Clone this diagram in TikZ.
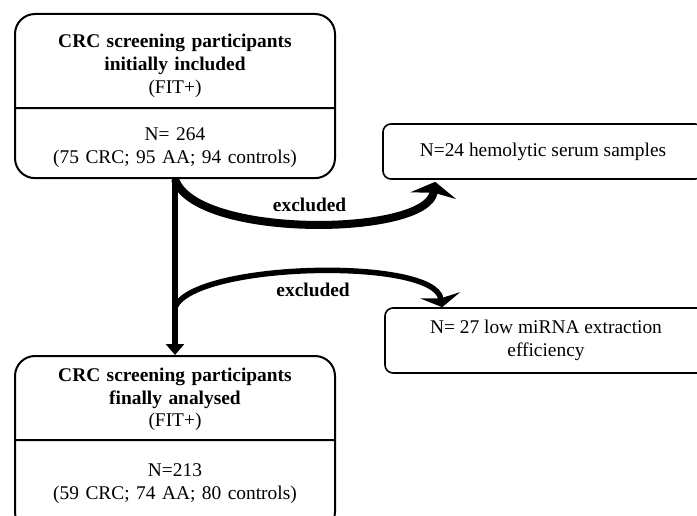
\documentclass[tikz,border=0pt]{standalone}
\usepackage{fontspec}
\setmainfont{Liberation Serif}
\usetikzlibrary{shapes.multipart,arrows.meta}

\begin{document}
\begin{tikzpicture}[x=1pt,y=-1pt,
    every node/.style={font=\fontsize{19.4}{23}\selectfont},
    splitbox/.style={draw,line width=2pt,rounded corners=20pt,rectangle split,rectangle split parts=2,
      text width=306pt,inner xsep=7pt,align=center},
    sidebox/.style={draw,line width=1.6pt,rounded corners=8pt,align=center},
    exlabel/.style={font=\fontsize{19.4}{23}\selectfont\bfseries,inner sep=2pt}]
      \clip (0,0) rectangle (697,516);
      % boxes
      \node[splitbox,inner ysep=9pt,anchor=north] (incl) at (175,13)
        {\textbf{\rule{0pt}{24pt}CRC screening participants\\initially included}\\(FIT+)
         \nodepart{two}\rule{0pt}{22pt}N= 264\\(75 CRC; 95 AA; 94 controls)\rule[-5pt]{0pt}{0pt}};
      \node[splitbox,inner ysep=8pt,anchor=north] (final) at (175,355)
        {\textbf{\rule{0pt}{16pt}CRC screening participants\\finally analysed}\\(FIT+)
         \nodepart{two}\rule{0pt}{27pt}N=213\\(59 CRC; 74 AA; 80 controls)\rule[-24pt]{0pt}{0pt}};
      \node[sidebox,minimum width=320pt,minimum height=55pt] (hemo) at (543,151.5) {N=24 hemolytic serum samples};
      \node[sidebox,minimum width=322pt,minimum height=65pt] (lowmi) at (546,340.5) {N= 27 low miRNA extraction\\efficiency};
      \coordinate (hemotip) at ([xshift=53pt,yshift=-2pt]hemo.south west);
      \coordinate (lowtip) at ([xshift=58pt]lowmi.north west);
      \coordinate (split) at (incl.south |- lowmi.north);
      % arrows
      \draw[line width=5.5pt,-{Triangle[length=11pt,width=18pt]}] (incl.south) -- (final.north);
      \draw[line width=8pt,-{Stealth[length=14pt,width=46pt,inset=3pt]}] (incl.south)
        .. controls +(20,60) and +(-8,55) .. (hemotip) node[exlabel,pos=0.5,above=6pt] {excluded};
      \draw[line width=5.5pt,-{Stealth[length=12pt,width=40pt,inset=3pt]}] (split)
        .. controls +(20,-45) and +(-8,-50) .. (lowtip) node[exlabel,pos=0.5,below=7pt] {excluded};
    \end{tikzpicture}
\end{document}
